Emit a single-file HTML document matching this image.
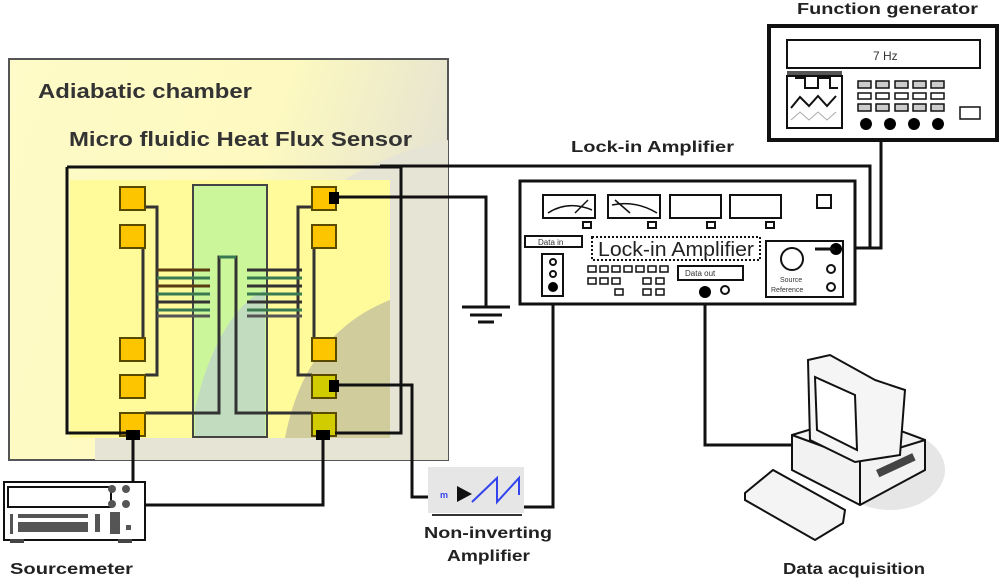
<!DOCTYPE html>
<html><head><meta charset="utf-8"><style>
body{margin:0;background:#fff}
svg{display:block}
text{font-family:"Liberation Sans",sans-serif}
</style></head><body>
<svg width="1000" height="579" viewBox="0 0 1000 579" xmlns="http://www.w3.org/2000/svg">
<defs>
<linearGradient id="ch" x1="0" y1="0" x2="1" y2="0.3">
<stop offset="0" stop-color="#fffbc8"/><stop offset="0.6" stop-color="#fdf9c0"/><stop offset="1" stop-color="#e4e2d2"/>
</linearGradient>
</defs>
<!-- chamber -->
<rect x="9" y="59" width="439" height="401" fill="url(#ch)" stroke="#555" stroke-width="2"/>
<path d="M95 460 L95 410 C200 300 300 170 448 140 L448 460 Z" fill="#e6e4d4"/>
<text x="38" y="98" font-size="20" font-weight="bold" fill="#333" textLength="214" lengthAdjust="spacingAndGlyphs">Adiabatic chamber</text>
<text x="69" y="146" font-size="20" font-weight="bold" fill="#333" textLength="343" lengthAdjust="spacingAndGlyphs">Micro fluidic Heat Flux Sensor</text>
<!-- sensor inner -->
<rect x="70" y="180" width="320" height="258" fill="#fffa9a"/>
<path d="M285 438 C300 360 340 320 390 300 L390 438 Z" fill="#d0cc9c"/>
<rect x="193" y="185" width="74" height="252" fill="#cbf79a" stroke="#444" stroke-width="2"/>
<path d="M195 410 C210 340 240 300 265 290 L265 436 L195 436Z" fill="#c2dcc0"/>
<!-- traces -->
<g fill="none" stroke="#333" stroke-width="3">
<path d="M145 207 H157 V375 H145"/>
<path d="M143 247 V338"/>
<path d="M312 207 H298 V375 H312"/>
<path d="M314 247 V338"/>
<path d="M145 413 H219 V257 H236 V413 H312"/>
</g>
<path d="M219 257 H236" stroke="#3a7a50" stroke-width="3"/>
<!-- thermopile strips -->
<g stroke-width="3">
<line x1="157" y1="270" x2="210" y2="270" stroke="#5a3a10"/><line x1="157" y1="278" x2="210" y2="278" stroke="#3a7a50"/>
<line x1="157" y1="286" x2="210" y2="286" stroke="#5a3a10"/><line x1="157" y1="294" x2="210" y2="294" stroke="#3a7a50"/>
<line x1="157" y1="302" x2="210" y2="302" stroke="#333"/><line x1="157" y1="310" x2="210" y2="310" stroke="#3a7a50"/>
<line x1="157" y1="316" x2="210" y2="316" stroke="#555"/>
<line x1="247" y1="270" x2="302" y2="270" stroke="#333"/><line x1="247" y1="278" x2="302" y2="278" stroke="#3a7a50"/>
<line x1="247" y1="286" x2="302" y2="286" stroke="#333"/><line x1="247" y1="294" x2="302" y2="294" stroke="#3a7a50"/>
<line x1="247" y1="302" x2="302" y2="302" stroke="#333"/><line x1="247" y1="310" x2="302" y2="310" stroke="#3a7a50"/>
<line x1="247" y1="316" x2="302" y2="316" stroke="#555"/>
</g>
<!-- pads -->
<g fill="#fdc400" stroke="#5a4a00" stroke-width="2">
<rect x="120" y="187" width="25" height="23"/><rect x="120" y="225" width="25" height="23"/>
<rect x="120" y="338" width="25" height="23"/><rect x="120" y="375" width="25" height="23"/>
<rect x="120" y="413" width="25" height="23"/>
<rect x="312" y="187" width="24" height="23"/><rect x="312" y="225" width="24" height="23"/>
<rect x="312" y="338" width="24" height="23"/>
<rect x="312" y="375" width="24" height="23" fill="#d0cc00"/><rect x="312" y="413" width="24" height="23" fill="#d0cc00"/>
</g>
<!-- wires -->
<g fill="none" stroke="#111" stroke-width="3">
<path d="M67 167 H401 V433 H335"/>
<path d="M133 433 H67 V167"/>
<path d="M380 166 H870 V248 H835"/>
<path d="M881 140 V248 H835"/>
<path d="M336 197 H486 V306"/>
<path d="M336 385 H412 V497 H440"/>
<path d="M520 490 V507 H553 V288"/>
<path d="M705 292 V445 H792"/>
<path d="M133 437 V490"/>
<path d="M323 437 V505 H130"/>
</g>
<rect x="329" y="192" width="10" height="12" fill="#000"/>
<rect x="329" y="380" width="10" height="12" fill="#000"/>
<rect x="126" y="430" width="14" height="10" fill="#000"/>
<rect x="316" y="430" width="14" height="10" fill="#000"/>
<!-- ground -->
<g stroke="#111" stroke-width="3"><line x1="462" y1="307" x2="510" y2="307"/><line x1="470" y1="315" x2="502" y2="315"/><line x1="478" y1="322" x2="494" y2="322"/></g>
<!-- lock-in -->
<text x="571" y="152" font-size="16" font-weight="bold" fill="#222" textLength="163" lengthAdjust="spacingAndGlyphs">Lock-in Amplifier</text>
<rect x="520" y="181" width="335" height="123" fill="#fff" stroke="#111" stroke-width="3"/>
<g fill="#fff" stroke="#111" stroke-width="2">
<rect x="543" y="195" width="52" height="23"/><rect x="608" y="195" width="52" height="23"/>
<rect x="670" y="195" width="51" height="23"/><rect x="730" y="195" width="51" height="23"/>
<rect x="817" y="195" width="14" height="13"/>
<rect x="583" y="222" width="8" height="6"/><rect x="648" y="222" width="8" height="6"/><rect x="707" y="222" width="8" height="6"/><rect x="766" y="222" width="8" height="6"/>
<rect x="525" y="236" width="57" height="11"/>
<rect x="592" y="237" width="168" height="23" stroke-dasharray="2 2"/>
<rect x="542" y="254" width="21" height="42"/>
<rect x="678" y="266" width="65" height="14"/>
<rect x="766" y="241" width="77" height="56"/>
<path d="M548 213 Q568 200 592 210 M575 213 L588 200 M612 205 Q635 200 657 213 M615 200 L630 213" fill="none" stroke-width="1.5"/>
<circle cx="792" cy="259" r="11"/>
<circle cx="553" cy="262" r="3"/><circle cx="553" cy="274" r="3"/>
<circle cx="725" cy="290" r="4"/><circle cx="831" cy="269" r="4"/><circle cx="831" cy="287" r="4"/>
</g>
<text x="538" y="245" font-size="8" fill="#333">Data in</text>
<text x="598" y="256" font-size="20" fill="#222" textLength="156" lengthAdjust="spacingAndGlyphs">Lock-in Amplifier</text>
<text x="685" y="276" font-size="8" fill="#333">Data out</text>
<text x="780" y="282" font-size="7" fill="#333">Source</text>
<text x="771" y="292" font-size="7" fill="#333">Reference</text>
<g fill="#fff" stroke="#111" stroke-width="1.5">
<rect x="588" y="266" width="8" height="6"/><rect x="600" y="266" width="8" height="6"/><rect x="612" y="266" width="8" height="6"/><rect x="624" y="266" width="8" height="6"/><rect x="636" y="266" width="8" height="6"/><rect x="648" y="266" width="8" height="6"/><rect x="660" y="266" width="8" height="6"/>
<rect x="588" y="278" width="8" height="6"/><rect x="600" y="278" width="8" height="6"/><rect x="612" y="278" width="8" height="6"/><rect x="643" y="278" width="8" height="6"/><rect x="656" y="278" width="8" height="6"/>
<rect x="615" y="289" width="8" height="6"/><rect x="643" y="289" width="8" height="6"/><rect x="656" y="289" width="8" height="6"/>
</g>
<circle cx="553" cy="287" r="5" fill="#000"/><circle cx="705" cy="292" r="6" fill="#000"/><circle cx="836" cy="249" r="6" fill="#000"/>
<line x1="815" y1="249" x2="835" y2="249" stroke="#111" stroke-width="3"/>
<!-- function generator -->
<text x="797" y="14" font-size="16" font-weight="bold" fill="#222" textLength="181" lengthAdjust="spacingAndGlyphs">Function generator</text>
<rect x="769" y="26" width="228" height="114" fill="#fff" stroke="#111" stroke-width="4"/>
<rect x="787" y="40" width="193" height="28" fill="#fff" stroke="#111" stroke-width="2"/>
<text x="873" y="60" font-size="12" font-family="Liberation Serif" fill="#333">7 Hz</text>
<rect x="787" y="76" width="55" height="52" fill="#fff" stroke="#111" stroke-width="2"/>
<rect x="787" y="71" width="55" height="4" fill="#555"/>
<path d="M795 78 H805 V88 H818 V78 H830 V88 H838" fill="none" stroke="#111" stroke-width="2"/>
<path d="M791 108 L800 97 L809 106 L818 96 L827 106 L836 96" fill="none" stroke="#111" stroke-width="2"/>
<path d="M791 120 L800 112 L809 120 L818 112 L827 120 L836 112" fill="none" stroke="#aaa" stroke-width="1"/>
<g fill="#ccc" stroke="#111" stroke-width="1.5">
<rect x="858" y="81" width="13" height="7"/><rect x="876" y="81" width="13" height="7"/><rect x="895" y="81" width="13" height="7"/><rect x="913" y="81" width="13" height="7"/><rect x="931" y="81" width="13" height="7"/>
<rect x="858" y="93" width="13" height="6" fill="#fff"/><rect x="876" y="93" width="13" height="6" fill="#fff"/><rect x="895" y="93" width="13" height="6" fill="#fff"/><rect x="913" y="93" width="13" height="6" fill="#fff"/><rect x="931" y="93" width="13" height="6" fill="#fff"/>
<rect x="858" y="104" width="13" height="7"/><rect x="876" y="104" width="13" height="7"/><rect x="895" y="104" width="13" height="7"/><rect x="913" y="104" width="13" height="7"/><rect x="931" y="104" width="13" height="7"/>
<rect x="960" y="107" width="20" height="12" fill="#fff"/>
</g>
<g fill="#000"><circle cx="866" cy="124" r="6"/><circle cx="890" cy="124" r="6"/><circle cx="914" cy="124" r="6"/><circle cx="938" cy="124" r="6"/></g>
<!-- sourcemeter -->
<rect x="4" y="482" width="141" height="58" fill="#fff" stroke="#111" stroke-width="2"/>
<rect x="8" y="487" width="103" height="20" fill="#fff" stroke="#111" stroke-width="2"/>
<rect x="10" y="539" width="14" height="4" fill="#444"/><rect x="118" y="539" width="14" height="4" fill="#444"/>
<g fill="#555"><rect x="10" y="514" width="3" height="20"/><rect x="18" y="514" width="70" height="4"/><rect x="18" y="522" width="70" height="10"/><rect x="95" y="514" width="5" height="18"/><rect x="110" y="512" width="10" height="22"/><rect x="126" y="525" width="5" height="5"/>
<circle cx="112" cy="489" r="4"/><circle cx="126" cy="489" r="4"/><circle cx="112" cy="504" r="4"/><circle cx="126" cy="504" r="4"/></g>
<text x="10" y="574" font-size="16" font-weight="bold" fill="#222" textLength="123" lengthAdjust="spacingAndGlyphs">Sourcemeter</text>
<!-- amp -->
<rect x="428" y="467" width="96" height="46" fill="#e6e6e6"/>
<line x1="432" y1="515" x2="522" y2="515" stroke="#333" stroke-width="2"/>
<path d="M457 486 L472 494 L457 502Z" fill="#111"/>
<path d="M472 502 L497 478 L497 502 L519 478 L519 495" fill="none" stroke="#3344ee" stroke-width="2"/>
<text x="440" y="498" font-size="9" fill="#3344ee" font-weight="bold">m</text>
<text x="424" y="538" font-size="16" font-weight="bold" fill="#222" textLength="128" lengthAdjust="spacingAndGlyphs">Non-inverting</text>
<text x="447" y="561" font-size="16" font-weight="bold" fill="#222" textLength="83" lengthAdjust="spacingAndGlyphs">Amplifier</text>
<!-- computer -->
<ellipse cx="890" cy="470" rx="55" ry="40" fill="#e6e6e6"/>
<path d="M792 435 L858 415 L925 440 L925 470 L860 505 L792 470Z" fill="#f2f2f2" stroke="#111" stroke-width="2"/>
<path d="M792 435 L860 460 L925 440 M860 460 V505" fill="none" stroke="#111" stroke-width="2"/>
<path d="M808 360 L830 355 L875 380 L905 390 L900 455 L855 462 L810 440Z" fill="#f5f5f5" stroke="#111" stroke-width="2"/>
<path d="M815 377 L855 395 L857 450 L817 430Z" fill="#fff" stroke="#111" stroke-width="2"/>
<rect x="876" y="470" width="40" height="8" fill="#444" transform="rotate(-25 876 470)"/>
<path d="M745 493 L773 470 L845 510 L843 523 L815 540 L745 500Z" fill="#f4f4f4" stroke="#111" stroke-width="2"/>
<text x="783" y="574" font-size="16" font-weight="bold" fill="#222" textLength="142" lengthAdjust="spacingAndGlyphs">Data acquisition</text>
</svg>
</body></html>
